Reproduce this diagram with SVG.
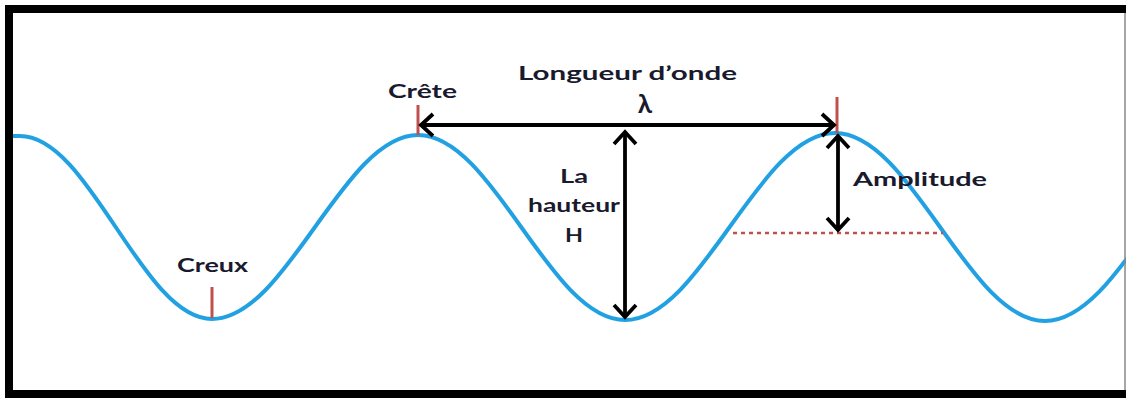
<svg xmlns="http://www.w3.org/2000/svg" width="1126" height="399" viewBox="0 0 1126 399">
  <style>
    .lbl { font-family: Lato, "Open Sans", "Liberation Sans", sans-serif; font-weight: bold; font-size: 19px; fill: #1a1a2e; }
    .lam { font-size: 26px; }
    .wave { fill: none; stroke: #22A1E2; stroke-width: 4; stroke-linejoin: round; }
    .tick { stroke: #C0504D; stroke-width: 3; }
    .dim { stroke: #000; stroke-width: 3.8; fill: none; }
  </style>
  <defs>
    <marker id="chev" viewBox="-16 -14 20 28" refX="0" refY="0" markerWidth="20" markerHeight="28" markerUnits="userSpaceOnUse" orient="auto-start-reverse" overflow="visible">
      <path d="M-12,-11 L0,0 L-12,11" fill="none" stroke="#000" stroke-width="3.8" stroke-linejoin="miter"/>
    </marker>
  </defs>
  <rect x="0" y="0" width="1126" height="399" fill="#fff"/>

  <g id="wave">
    <path class="wave" d="M13,136 L20,136 C89.8,136 142.2,319 212,319 C286.9,319 343.1,135 418,135 C493.2,135 549.8,320 625,320 C701.3,320 758.7,133 835,133 C911.3,133 968.7,321 1045,321 C1121.3,321 1178.7,133 1255,133"/>
  </g>

  <g id="markers">
    <line class="tick" x1="418" y1="105" x2="418" y2="135"/>
    <line class="tick" x1="837" y1="97" x2="837" y2="133"/>
    <line class="tick" x1="212" y1="287" x2="212" y2="318"/>
    <line x1="733" y1="233" x2="943" y2="233" stroke="#C0504D" stroke-width="2.5" stroke-dasharray="4 4"/>
  </g>

  <g id="connectors">
    <line class="dim" x1="421" y1="125" x2="834" y2="125" marker-start="url(#chev)" marker-end="url(#chev)"/>
    <line class="dim" x1="625" y1="132" x2="625" y2="317" marker-start="url(#chev)" marker-end="url(#chev)"/>
    <line class="dim" x1="838" y1="136" x2="838" y2="230" marker-start="url(#chev)" marker-end="url(#chev)"/>
  </g>

  <g id="label-longueur"><text class="lbl" x="518" y="80" textLength="219" lengthAdjust="spacingAndGlyphs">Longueur d’onde</text></g>
  <g id="label-lambda"><text class="lbl lam" x="645" y="113" text-anchor="middle">λ</text></g>
  <g id="label-crete"><text class="lbl" x="388" y="98" textLength="69" lengthAdjust="spacingAndGlyphs">Crête</text></g>
  <g id="label-hauteur">
    <text class="lbl" x="560" y="183" textLength="28" lengthAdjust="spacingAndGlyphs">La</text>
    <text class="lbl" x="528" y="212" textLength="92" lengthAdjust="spacingAndGlyphs">hauteur</text>
    <text class="lbl" x="565" y="242" textLength="18" lengthAdjust="spacingAndGlyphs">H</text>
  </g>
  <g id="label-amplitude"><text class="lbl" x="853" y="186" textLength="134" lengthAdjust="spacingAndGlyphs">Amplitude</text></g>
  <g id="label-creux"><text class="lbl" x="177" y="272" textLength="71" lengthAdjust="spacingAndGlyphs">Creux</text></g>

  <g id="frame">
    <rect x="9" y="9" width="1130" height="385" fill="none" stroke="#000" stroke-width="8"/>
    <line x1="1125" y1="13" x2="1125" y2="390" stroke="#888" stroke-width="1.5"/>
  </g>
</svg>
